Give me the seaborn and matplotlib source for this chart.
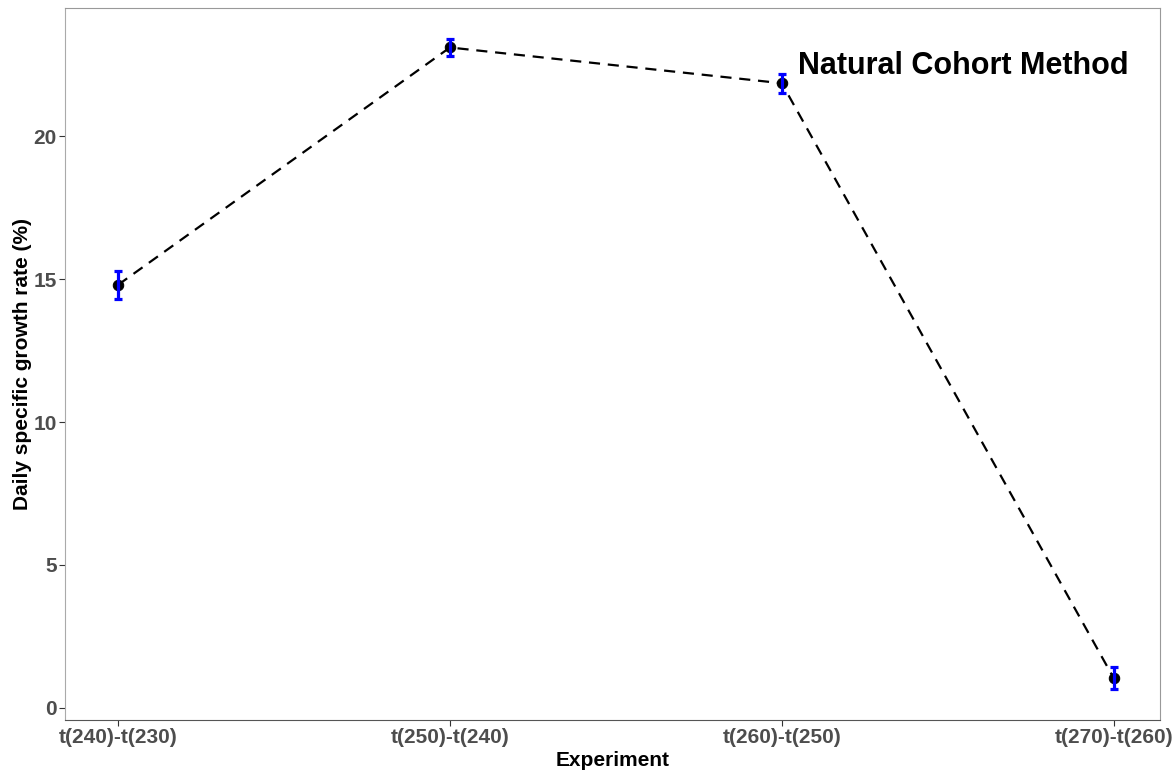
import matplotlib
matplotlib.use("Agg")
import matplotlib.pyplot as plt
import seaborn as sns
import pandas as pd

experiments = ["t(240)-t(230)", "t(250)-t(240)", "t(260)-t(250)", "t(270)-t(260)"]
growth_rate = [14.8, 23.1, 21.85, 1.05]
growth_err = [0.5, 0.3, 0.33, 0.4]

sns.set_theme(style="white")
plt.rcParams["font.family"] = ["Liberation Sans", "DejaVu Sans"]

df = pd.DataFrame({"pos": range(len(experiments)), "rate": growth_rate, "err": growth_err})

fig = plt.figure(figsize=(11.72, 7.72), dpi=100)
ax = fig.add_axes([0.0555, 0.0674, 0.9343, 0.9222])

sns.lineplot(data=df, x="pos", y="rate", ax=ax, color="black", linestyle=(0, (5, 3.5)),
             linewidth=1.6, marker="o", markersize=7.5, markeredgecolor="black", zorder=3)
ax.errorbar(df["pos"], df["rate"], yerr=df["err"], fmt="none", ecolor="#0000FF",
            elinewidth=2.3, capsize=3, capthick=2.3, zorder=4)

ax.set_xlim(-0.16, 3.14)
ax.set_ylim(-0.42, 24.48)
ax.set_xticks(range(len(experiments)))
ax.set_xticklabels(experiments)
ax.set_yticks([0, 5, 10, 15, 20])
ax.tick_params(axis="both", length=4, width=0.8, color="#333333", labelsize=15,
               labelcolor="#4D4D4D", bottom=True, left=True, pad=2)
for lbl in ax.get_xticklabels() + ax.get_yticklabels():
    lbl.set_fontweight("bold")

ax.set_xlabel("Experiment", fontsize=15, fontweight="bold", color="black", labelpad=3)
ax.set_ylabel("Daily specific growth rate (%)", fontsize=15, fontweight="bold", color="black", labelpad=1)

for side in ["top", "right"]:
    ax.spines[side].set_color("#999999")
    ax.spines[side].set_linewidth(0.8)
ax.spines["bottom"].set_color("#555555")
ax.spines["bottom"].set_linewidth(0.8)
ax.spines["left"].set_color("#AAAAAA")
ax.spines["left"].set_linewidth(0.8)

ax.text(2.05, 22.45, "Natural Cohort Method", fontsize=22, fontweight="bold",
        color="black", ha="left", va="center")

fig.savefig("out.png", dpi=100)
